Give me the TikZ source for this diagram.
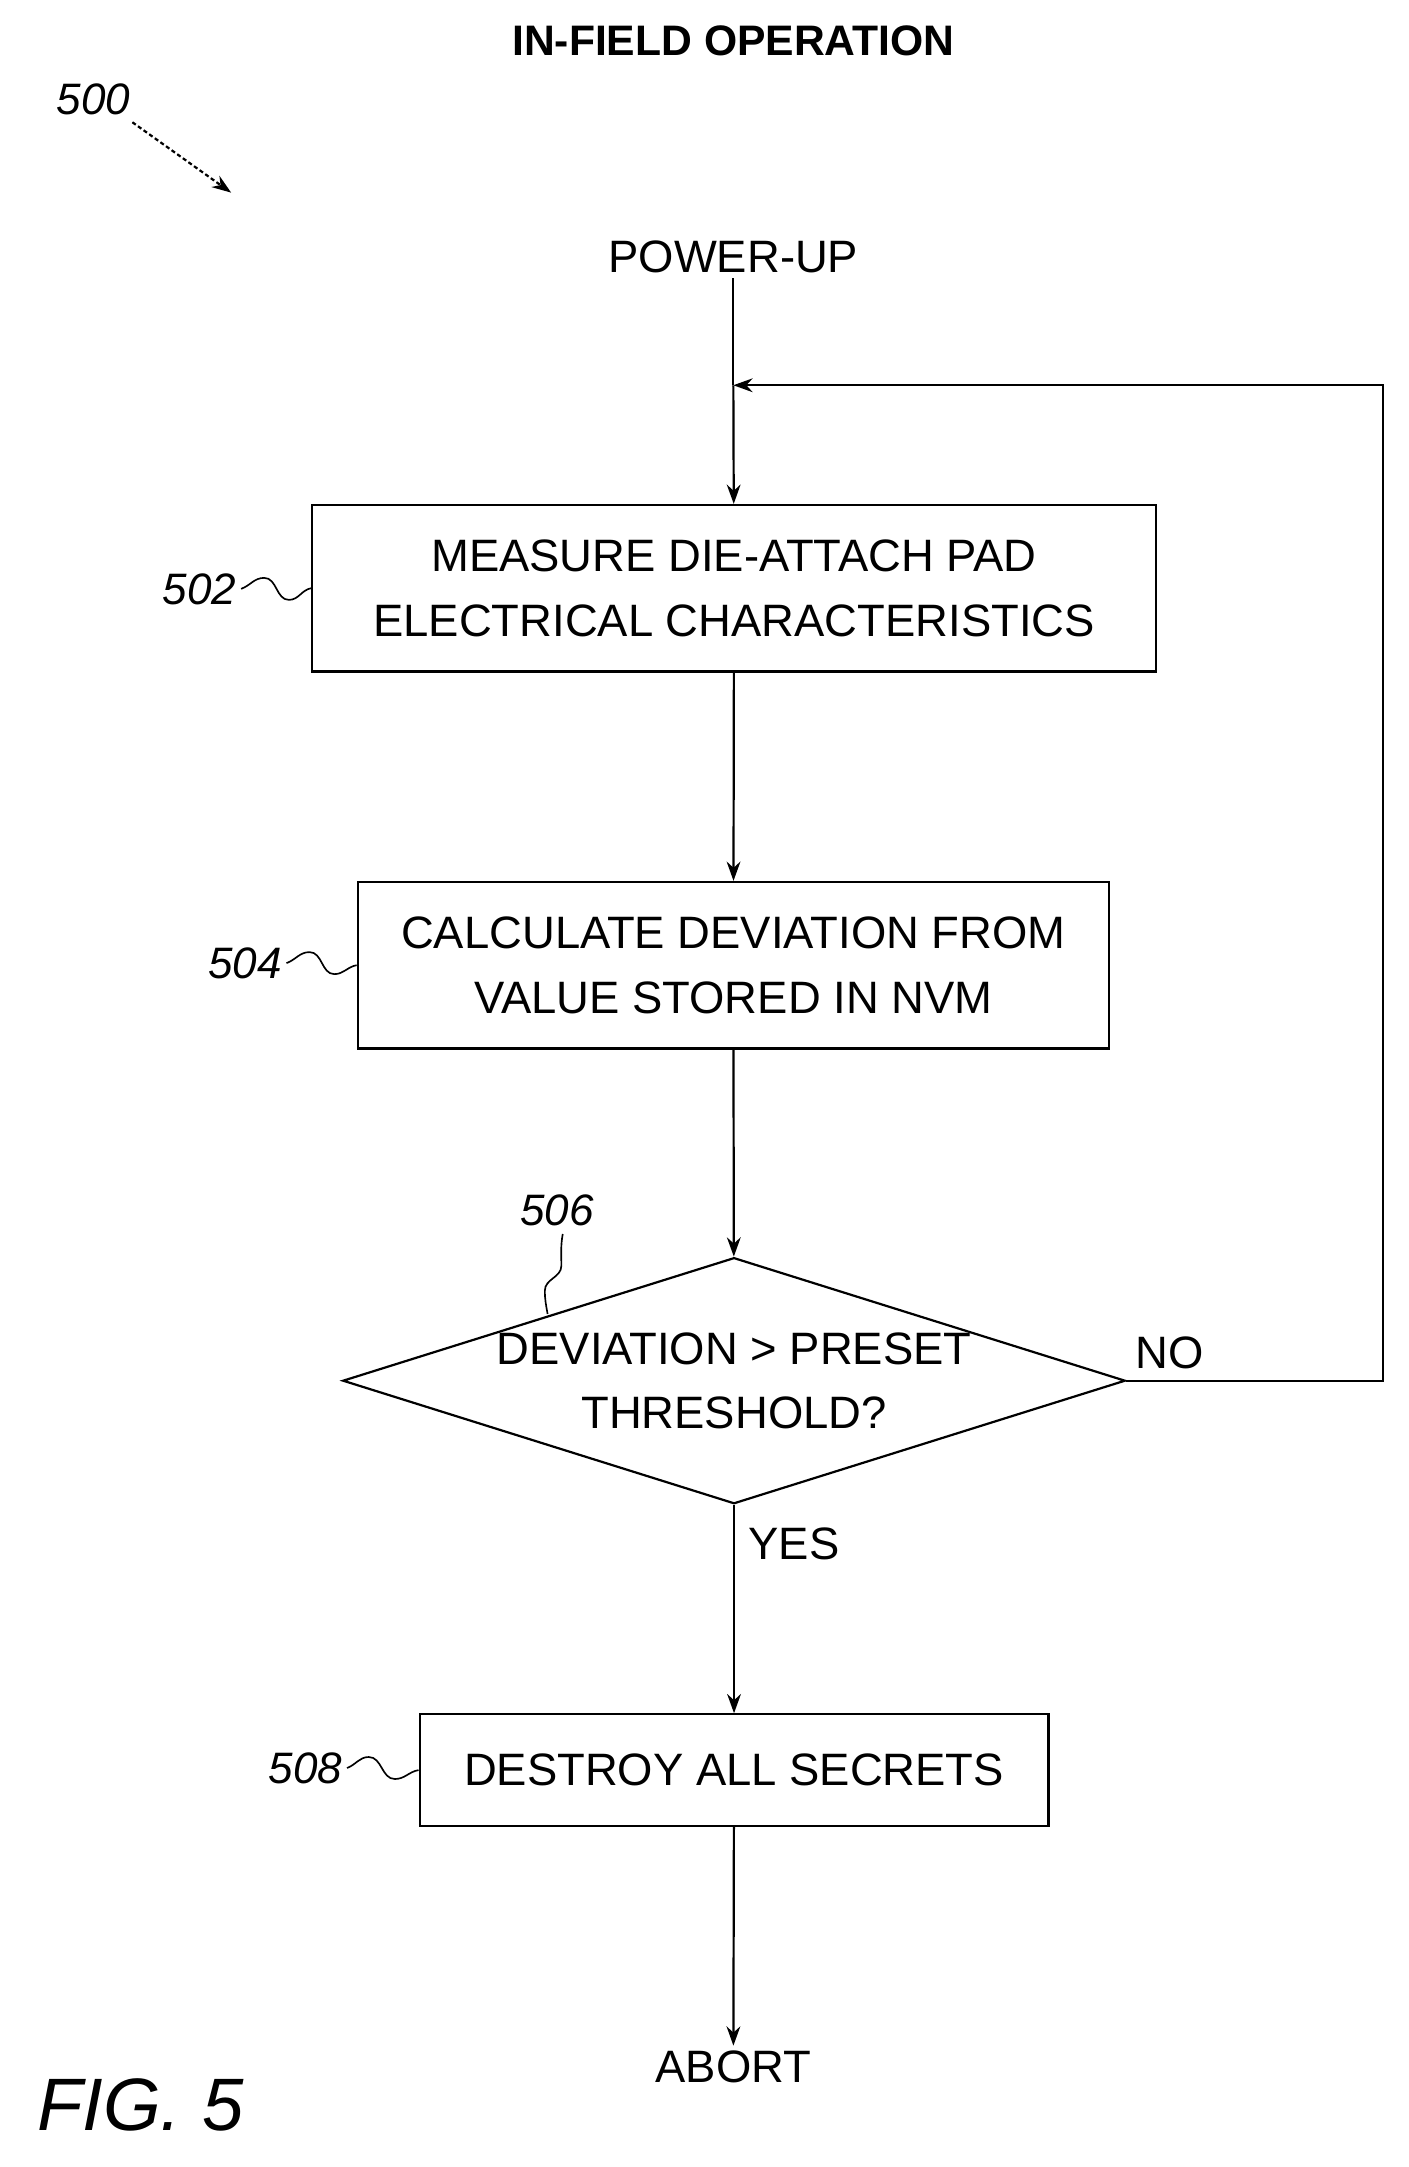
\documentclass[tikz,border=0pt]{standalone}
\usepackage{fontspec}
\setmainfont{Liberation Sans}
\usetikzlibrary{shapes.geometric, arrows.meta}

\tikzset{
  box/.style={draw, line width=1.6pt, minimum height=121pt, align=center, font=\fontsize{33}{47}\selectfont},
  flow/.style={line width=1.6pt, -{Stealth[length=14pt,width=10pt]}},
  tag/.style={font=\fontsize{32}{36}\selectfont\itshape},
  txt/.style={font=\fontsize{33}{38}\selectfont}
}

\begin{document}
\begin{tikzpicture}[x=1pt,y=-1pt]
  \useasboundingbox (0,0) rectangle (1024,1575);
  \node[font=\fontsize{31}{36}\selectfont\bfseries] (title) at (533,30) {IN-FIELD OPERATION};
  \node[tag] (n500) at (68,72) {500};
  \coordinate (p500) at (168,140);
  \draw[flow, dash pattern=on 3pt off 2pt] (n500.south east) ++(-2,2) -- (p500);

  \node[txt] (power) at (533,187) {POWER-UP};
  \node[box, minimum width=613pt] (measure) at (533.5,427.5) {MEASURE DIE-ATTACH PAD\\ELECTRICAL CHARACTERISTICS};
  \node[box, minimum width=546pt] (calc) at (533,701.5) {CALCULATE DEVIATION FROM\\VALUE STORED IN NVM};
  \node[draw, line width=1.6pt, diamond, aspect=3.18, minimum width=563pt, minimum height=177pt, inner sep=0pt, align=center, font=\fontsize{33}{47}\selectfont] (check) at (533.5,1003.5) {DEVIATION {>} PRESET\\THRESHOLD?};
  \node[box, minimum width=457pt, minimum height=81pt] (destroy) at (533.5,1286.5) {DESTROY ALL SECRETS};
  \node[txt] (abort) at (533,1502) {ABORT};
  \coordinate (merge) at (533,280);
  \coordinate (right) at (1005,1003.5);

  \draw[line width=1.6pt] (power) -- (merge);
  \draw[flow] (merge) -- (measure);
  \draw[flow] (measure) -- (calc);
  \draw[flow] (calc) -- (check);
  \draw[flow] (check) -- (destroy);
  \draw[flow] (destroy) -- (abort);
  \draw[flow] (check.east) -- (right) |- (merge);
  \node[txt] (no) at (850,983) {NO};
  \node[txt] (yes) at (577,1122) {YES};

  % reference numerals
  \node[tag] (n502) at (145,428) {502};
  \draw[line width=1.2pt] (n502.east) to[out=20,in=180] (192,420) to[out=0,in=180] (210,436) to[out=0,in=190] (measure.west);
  \node[tag] (n504) at (178,700) {504};
  \draw[line width=1.2pt] (n504.east) to[out=20,in=180] (225,692) to[out=0,in=180] (243,708) to[out=0,in=190] (calc.west);
  \node[tag] (n508) at (222,1285) {508};
  \draw[line width=1.2pt] (n508.east) to[out=20,in=180] (268,1277) to[out=0,in=180] (287,1293) to[out=0,in=190] (destroy.west);
  \node[tag] (n506) at (405,880) {506};
  \coordinate (p506) at (398,955);
  \draw[line width=1.2pt] (n506.south) ++(4,2) to[out=-100,in=90] (408,920) to[out=-90,in=90] (396,938) to[out=-90,in=100] (p506);

  \node[font=\fontsize{54}{60}\selectfont\itshape] (fig) at (102,1530) {FIG. 5};
\end{tikzpicture}
\end{document}
